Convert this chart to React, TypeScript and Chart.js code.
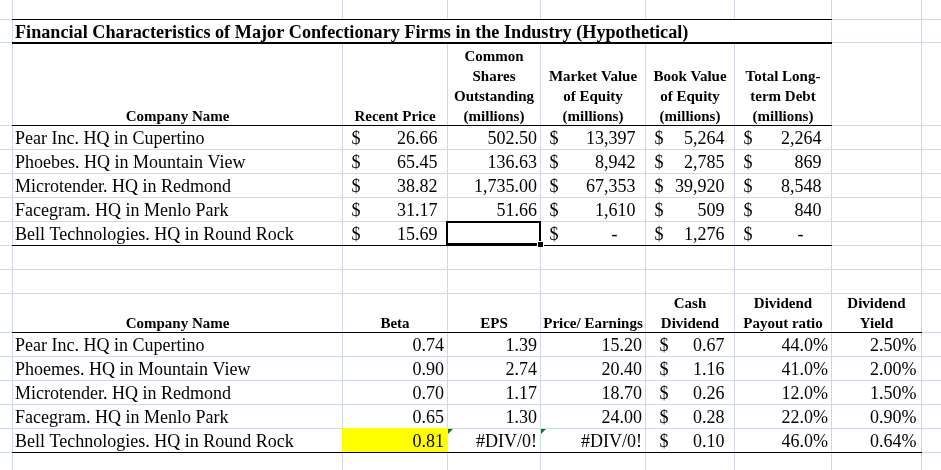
import React, { useEffect, useRef } from "react";
import { Chart, registerables } from "chart.js";

Chart.register(...registerables);

// ---------------- data ----------------
const title =
  "Financial Characteristics of Major Confectionary Firms in the Industry (Hypothetical)";

const headers1: string[][] = [
  ["Company Name"],
  ["Recent Price"],
  ["Common", "Shares", "Outstanding", "(millions)"],
  ["Market Value", "of Equity", "(millions)"],
  ["Book Value", "of Equity", "(millions)"],
  ["Total Long-", "term Debt", "(millions)"],
];
const companies1 = [
  "Pear Inc. HQ in Cupertino",
  "Phoebes. HQ in Mountain View",
  "Microtender. HQ in Redmond",
  "Facegram. HQ in Menlo Park",
  "Bell Technologies. HQ in Round Rock",
];
const recentPrice = [26.66, 65.45, 38.82, 31.17, 15.69];
const sharesOutstanding: (number | null)[] = [502.5, 136.63, 1735.0, 51.66, null];
const marketValue = [13397, 8942, 67353, 1610, 0];
const bookValue = [5264, 2785, 39920, 509, 1276];
const longTermDebt = [2264, 869, 8548, 840, 0];

const headers2: string[][] = [
  ["Company Name"],
  ["Beta"],
  ["EPS"],
  ["Price/ Earnings"],
  ["Cash", "Dividend"],
  ["Dividend", "Payout ratio"],
  ["Dividend", "Yield"],
];
const companies2 = [
  "Pear Inc. HQ in Cupertino",
  "Phoemes. HQ in Mountain View",
  "Microtender. HQ in Redmond",
  "Facegram. HQ in Menlo Park",
  "Bell Technologies. HQ in Round Rock",
];
const beta = [0.74, 0.9, 0.7, 0.65, 0.81];
const eps: (number | null)[] = [1.39, 2.74, 1.17, 1.3, null]; // null -> #DIV/0!
const priceEarnings: (number | null)[] = [15.2, 20.4, 18.7, 24.0, null];
const cashDividend = [0.67, 1.16, 0.26, 0.28, 0.1];
const payoutRatio = [0.44, 0.41, 0.12, 0.22, 0.46];
const dividendYield = [0.025, 0.02, 0.015, 0.009, 0.0064];

// ---------------- layout (sheet geometry, in axis units) ----------------
const W = 941;
const H = 470;
const colEdges = [12, 342, 447, 540, 645, 734, 831, 921];
const rowLines = [19, 42, 125, 149, 173, 197, 221, 245, 269, 293, 332, 356, 380, 404, 428, 452];
const TITLE_TOP = 19;
const TITLE_BOTTOM = 43;
const HEAD1_BOTTOM = 125;
const T1_ROW_BOTTOMS = [149, 173, 197, 221, 245];
const HEAD2_BOTTOM = 332;
const T2_ROW_BOTTOMS = [356, 380, 404, 428, 452];

const FONT = '"Liberation Serif", "Times New Roman", serif';
const DATA_PX = 18;
const HEAD_PX = 15;
const TITLE_PX = 18.2;
const GRID = "#D0D7E5";

const fmt = (v: number, d: number) =>
  v.toLocaleString("en-US", { minimumFractionDigits: d, maximumFractionDigits: d });

type Cell =
  | { kind: "text"; s: string }
  | { kind: "num"; s: string; pad?: number }
  | { kind: "acct"; s: string; dollarPad?: number; dash?: boolean }
  | { kind: "empty" };

const sheetPlugin = {
  id: "sheet",
  afterDraw(chart: any) {
    const ctx: CanvasRenderingContext2D = chart.ctx;
    const sx = chart.scales.x;
    const sy = chart.scales.y;
    const X = (v: number) => sx.getPixelForValue(v);
    const Y = (v: number) => sy.getPixelForValue(v);
    ctx.save();

    // title row spans the table: no gridlines inside it
    ctx.fillStyle = "#ffffff";
    ctx.fillRect(X(colEdges[0]) + 1, Y(TITLE_TOP) + 1, X(colEdges[6]) - X(colEdges[0]) - 1, Y(TITLE_BOTTOM) - Y(TITLE_TOP) - 2);

    // yellow fill on Beta of last company
    ctx.fillStyle = "#FFFF00";
    ctx.fillRect(X(colEdges[1]), Y(T2_ROW_BOTTOMS[3]), X(colEdges[2]) - X(colEdges[1]) + 1, Y(T2_ROW_BOTTOMS[4]) - Y(T2_ROW_BOTTOMS[3]));

    // borders
    const hline = (y: number, x0: number, x1: number, w = 1) => {
      ctx.beginPath();
      ctx.lineWidth = w;
      ctx.strokeStyle = "#000";
      const yy = w === 1 ? Math.round(Y(y)) + 0.5 : Y(y);
      ctx.moveTo(X(x0), yy);
      ctx.lineTo(X(x1) + 1, yy);
      ctx.stroke();
    };
    hline(TITLE_TOP, colEdges[0], colEdges[6]);
    hline(TITLE_BOTTOM, colEdges[0], colEdges[6], 2);
    hline(HEAD1_BOTTOM, colEdges[0], colEdges[6]);
    hline(T1_ROW_BOTTOMS[4], colEdges[0], colEdges[6]);
    hline(HEAD2_BOTTOM, colEdges[0], colEdges[7]);
    hline(T2_ROW_BOTTOMS[4], colEdges[0], colEdges[7]);

    ctx.fillStyle = "#000";
    ctx.textBaseline = "alphabetic";

    // title
    ctx.font = `bold ${TITLE_PX}px ${FONT}`;
    ctx.textAlign = "left";
    ctx.fillText(title, X(colEdges[0]) + 3, Y(TITLE_BOTTOM) - 5.5);

    // headers
    const drawHeaders = (hdrs: string[][], bottom: number) => {
      ctx.font = `bold ${HEAD_PX}px ${FONT}`;
      ctx.textAlign = "center";
      hdrs.forEach((lines, c) => {
        const cx = (X(colEdges[c]) + X(colEdges[c + 1])) / 2 + 0.5;
        const n = lines.length;
        lines.forEach((ln, i) => {
          const by = Y(bottom) - 4.5 - (n - 1 - i) * 19.8;
          ctx.fillText(ln, cx, by);
        });
      });
    };
    drawHeaders(headers1, HEAD1_BOTTOM);
    drawHeaders(headers2, HEAD2_BOTTOM);

    // cells
    const drawCell = (cell: Cell, c: number, bottom: number) => {
      const l = X(colEdges[c]);
      const r = X(colEdges[c + 1]);
      const by = Y(bottom) - 5;
      ctx.font = `${DATA_PX}px ${FONT}`;
      if (cell.kind === "text") {
        ctx.textAlign = "left";
        ctx.fillText(cell.s, l + 3, by);
      } else if (cell.kind === "num") {
        ctx.textAlign = "right";
        ctx.fillText(cell.s, r - (cell.pad ?? 3), by);
      } else if (cell.kind === "acct") {
        ctx.textAlign = "left";
        ctx.fillText("$", l + (cell.dollarPad ?? 9.5), by);
        ctx.textAlign = "right";
        ctx.fillText(cell.s, r - 9.5 - (cell.dash ? DATA_PX : 0), by);
      }
    };
    const acct0 = (v: number): Cell =>
      v === 0 ? { kind: "acct", s: "-", dash: true } : { kind: "acct", s: fmt(v, 0) };

    companies1.forEach((name, i) => {
      const b = T1_ROW_BOTTOMS[i];
      const sh = sharesOutstanding[i];
      const row: Cell[] = [
        { kind: "text", s: name },
        { kind: "acct", s: fmt(recentPrice[i], 2) },
        sh === null ? { kind: "empty" } : { kind: "num", s: fmt(sh, 2) },
        acct0(marketValue[i]),
        acct0(bookValue[i]),
        acct0(longTermDebt[i]),
      ];
      row.forEach((cell, c) => drawCell(cell, c, b));
    });

    companies2.forEach((name, i) => {
      const b = T2_ROW_BOTTOMS[i];
      const e = eps[i];
      const pe = priceEarnings[i];
      const row: Cell[] = [
        { kind: "text", s: name },
        { kind: "num", s: fmt(beta[i], 2) },
        { kind: "num", s: e === null ? "#DIV/0!" : fmt(e, 2) },
        { kind: "num", s: pe === null ? "#DIV/0!" : fmt(pe, 2) },
        { kind: "acct", s: fmt(cashDividend[i], 2), dollarPad: 14.5 },
        { kind: "num", s: fmt(payoutRatio[i] * 100, 1) + "%" },
        { kind: "num", s: fmt(dividendYield[i] * 100, 2) + "%", pad: 4.5 },
      ];
      row.forEach((cell, c) => drawCell(cell, c, b));
    });

    // error indicators (green triangles) on the #DIV/0! cells
    ctx.fillStyle = "#008000";
    [2, 3].forEach((c) => {
      const l = X(colEdges[c]) + 1;
      const t = Y(T2_ROW_BOTTOMS[3]) + 1;
      ctx.beginPath();
      ctx.moveTo(l, t);
      ctx.lineTo(l + 5, t);
      ctx.lineTo(l, t + 5);
      ctx.closePath();
      ctx.fill();
    });

    // active cell selection (shares outstanding of last company)
    const sl = X(colEdges[2]);
    const sr = X(colEdges[3]);
    const st = Y(T1_ROW_BOTTOMS[3]) + 1;
    const sb = Y(T1_ROW_BOTTOMS[4]) - 1;
    ctx.lineWidth = 2;
    ctx.strokeStyle = "#000";
    ctx.strokeRect(sl, st, sr - sl, sb - st);
    ctx.fillStyle = "#fff";
    ctx.fillRect(sr - 3, sb - 3, 7, 7);
    ctx.fillStyle = "#000";
    ctx.fillRect(sr - 2, sb - 2, 5, 5);

    ctx.restore();
  },
};

export default function App() {
  const ref = useRef<HTMLCanvasElement | null>(null);
  useEffect(() => {
    if (!ref.current) return;
    const chart = new Chart(ref.current, {
      type: "scatter",
      data: { datasets: [] },
      options: {
        animation: false,
        responsive: false,
        maintainAspectRatio: false,
        layout: { padding: 0 },
        plugins: { legend: { display: false }, tooltip: { enabled: false } },
        scales: {
          x: {
            type: "linear",
            min: 0,
            max: W,
            afterBuildTicks: (scale: any) => {
              scale.ticks = colEdges.map((v) => ({ value: v }));
            },
            ticks: { display: false },
            border: { display: false },
            grid: { color: GRID, lineWidth: 1, drawTicks: false },
          },
          y: {
            type: "linear",
            reverse: true,
            min: 0,
            max: H,
            afterBuildTicks: (scale: any) => {
              scale.ticks = rowLines.map((v) => ({ value: v }));
            },
            ticks: { display: false },
            border: { display: false },
            grid: { color: GRID, lineWidth: 1, drawTicks: false },
          },
        },
      },
      plugins: [sheetPlugin],
    });
    return () => chart.destroy();
  }, []);
  return (
    <div style={{ position: "fixed", left: 0, top: 0, width: W, height: H, background: "#fff" }}>
      <canvas ref={ref} width={W} height={H} style={{ display: "block", width: W, height: H }} />
    </div>
  );
}
